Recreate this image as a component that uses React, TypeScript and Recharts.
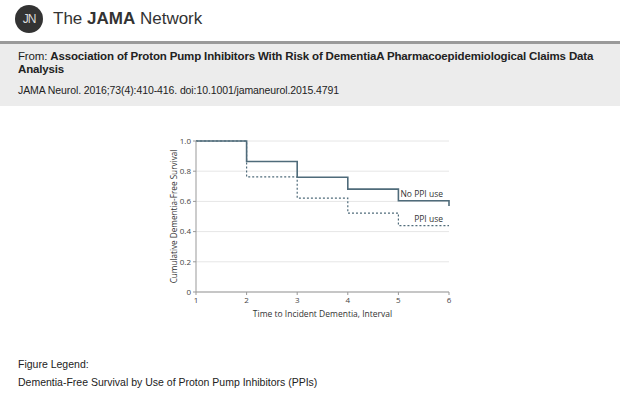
import React from "react";
import {
  LineChart,
  Line,
  XAxis,
  YAxis,
  CartesianGrid,
  LabelList,
  Label,
} from "recharts";

// Kaplan-Meier style step curves
const intervals = [1, 2, 3, 4, 5, 6];
const noPpiValues = [1.0, 0.864, 0.76, 0.681, 0.604, 0.604];
const noPpiFinal = 0.569; // drop at the last interval
const ppiValues = [1.0, 0.763, 0.622, 0.523, 0.44, 0.44];
const yTicks = [0, 0.2, 0.4, 0.6, 0.8, 1.0];

const noPpiData = [
  ...intervals.map((t, i) => ({ t, v: noPpiValues[i] })),
  { t: 6, v: noPpiFinal },
];
const ppiData = intervals.map((t, i) => ({ t, v: ppiValues[i] }));

const lineColor = "#4f6b7a";
const chartFont = "'Open Sans', 'DejaVu Sans', sans-serif";
const pageFont = "'Liberation Sans', Arial, sans-serif";

const endLabel = (text: string, lastIndex: number) => (props: any) => {
  const { x, y, index } = props;
  if (index !== lastIndex) return null;
  return (
    <text
      x={x - 6}
      y={y - 4}
      textAnchor="end"
      fontSize={8.5}
      fontFamily={chartFont}
      fill="#333"
    >
      {text}
    </text>
  );
};

const App = () => {
  return (
    <div
      style={{
        position: "absolute",
        left: 0,
        top: 0,
        width: 620,
        height: 418,
        background: "#fff",
        fontFamily: pageFont,
        color: "#222",
        overflow: "hidden",
      }}
    >
      {/* header */}
      <div
        style={{
          position: "absolute",
          left: 15,
          top: 5,
          width: 28,
          height: 28,
          borderRadius: "50%",
          background: "#333",
          color: "#ddd",
          fontSize: 12,
          lineHeight: "28px",
          textAlign: "center",
          letterSpacing: -1,
        }}
      >
        JN
      </div>
      <div
        style={{
          position: "absolute",
          left: 53,
          top: 9,
          fontSize: 17,
          lineHeight: "20px",
          color: "#333",
          whiteSpace: "nowrap",
        }}
      >
        The <b>JAMA</b> Network
      </div>
      <div
        style={{
          position: "absolute",
          left: 0,
          top: 41,
          width: 620,
          height: 3,
          background: "#9a9a9a",
        }}
      />
      <div
        style={{
          position: "absolute",
          left: 0,
          top: 44,
          width: 620,
          height: 62,
          background: "#ececec",
        }}
      />
      <div
        style={{
          position: "absolute",
          left: 18,
          top: 50,
          fontSize: 11.5,
          lineHeight: "13px",
          letterSpacing: -0.15,
          whiteSpace: "nowrap",
        }}
      >
        From:{" "}
        <b>
          Association of Proton Pump Inhibitors With Risk of DementiaA
          Pharmacoepidemiological Claims Data
          <br />
          Analysis
        </b>
      </div>
      <div
        style={{
          position: "absolute",
          left: 18,
          top: 84,
          fontSize: 10.5,
          lineHeight: "13px",
          letterSpacing: -0.1,
          whiteSpace: "nowrap",
        }}
      >
        JAMA Neurol. 2016;73(4):410-416. doi:10.1001/jamaneurol.2015.4791
      </div>

      {/* chart */}
      <div style={{ position: "absolute", left: 150, top: 130 }}>
        <LineChart
          width={310}
          height={200}
          margin={{ top: 11, right: 11, bottom: 0, left: 0 }}
        >
          <CartesianGrid
            vertical={false}
            stroke="#e6e6e6"
            strokeWidth={1}
          />
          <XAxis
            type="number"
            dataKey="t"
            domain={[1, 6]}
            ticks={intervals}
            allowDuplicatedCategory={false}
            height={38}
            stroke="#999"
            tickSize={3}
            tick={{ fontSize: 8, fill: "#444", fontFamily: chartFont }}
          >
            <Label
              value="Time to Incident Dementia, Interval"
              position="insideBottom"
              offset={13}
              style={{ fontSize: 8.5, fill: "#333", fontFamily: chartFont }}
            />
          </XAxis>
          <YAxis
            type="number"
            domain={[0, 1]}
            ticks={yTicks}
            width={46}
            stroke="#999"
            tickSize={3}
            tickFormatter={(v: number) => (v === 0 ? "0" : v.toFixed(1))}
            tick={{ fontSize: 8, fill: "#444", fontFamily: chartFont }}
          >
            <Label
              value="Cumulative Dementia-Free Survival"
              angle={-90}
              position="insideLeft"
              offset={24}
              style={{
                fontSize: 8.2,
                fill: "#333",
                fontFamily: chartFont,
                textAnchor: "middle",
              }}
            />
          </YAxis>
          <Line
            data={noPpiData}
            dataKey="v"
            type="stepAfter"
            stroke={lineColor}
            strokeWidth={1.6}
            dot={false}
            isAnimationActive={false}
          >
            <LabelList dataKey="v" content={endLabel("No PPI use", 5)} />
          </Line>
          <Line
            data={ppiData}
            dataKey="v"
            type="stepAfter"
            stroke={lineColor}
            strokeWidth={1.2}
            strokeDasharray="2 2"
            dot={false}
            isAnimationActive={false}
          >
            <LabelList dataKey="v" content={endLabel("PPI use", 5)} />
          </Line>
        </LineChart>
      </div>

      {/* legend text */}
      <div
        style={{
          position: "absolute",
          left: 18,
          top: 358,
          fontSize: 10.5,
          lineHeight: "13px",
          whiteSpace: "nowrap",
        }}
      >
        Figure Legend:
      </div>
      <div
        style={{
          position: "absolute",
          left: 18,
          top: 376,
          fontSize: 10.5,
          lineHeight: "13px",
          whiteSpace: "nowrap",
        }}
      >
        Dementia-Free Survival by Use of Proton Pump Inhibitors (PPIs)
      </div>
    </div>
  );
};

export default App;
